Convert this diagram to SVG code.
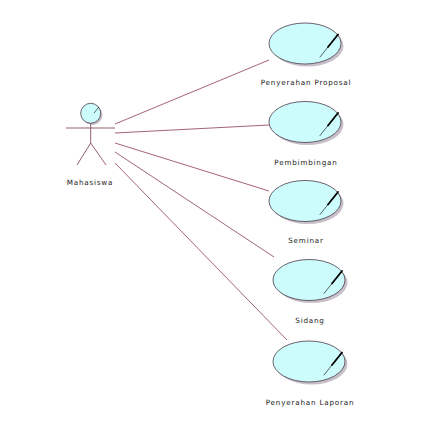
<svg xmlns="http://www.w3.org/2000/svg" width="440" height="436" viewBox="0 0 440 436">
<defs>
<style>
.sh{fill:#c8c0c8;stroke:none}
.uc{fill:#ccfcfc;stroke:#4a3a4a;stroke-width:0.8}
.pen{stroke:#000;fill:none;stroke-linecap:round}
.conn line{stroke:#9a5070;stroke-width:0.9}
.act{stroke:#8a4a60;stroke-width:0.9;fill:none}
.lbl{font-family:"DejaVu Sans",sans-serif;font-size:7.2px;fill:#222;text-anchor:middle;letter-spacing:0.8px}
</style>
<g id="ucshape">
<ellipse class="sh" cx="2.5" cy="2.5" rx="36" ry="20.5"/>
<ellipse class="uc" cx="0" cy="0" rx="36" ry="20.5"/>
<path d="M33,-9 L15,13.5" class="pen" stroke-width="0.6"/>
<path d="M33,-9 L23,3.5" class="pen" stroke-width="1.8"/>
</g>
</defs>
<rect width="440" height="436" fill="#fff"/>
<g class="conn" id="connectors">
<line x1="115" y1="124" x2="269" y2="60"/>
<line x1="115" y1="133" x2="269" y2="125"/>
<line x1="115" y1="143" x2="269" y2="191"/>
<line x1="115" y1="152" x2="274" y2="257"/>
<line x1="115" y1="163" x2="287" y2="340"/>
</g>
<g id="actor">
<circle cx="92.5" cy="115" r="10" fill="#c8c0c8"/>
<circle cx="90.7" cy="113.3" r="10" fill="#ccfcfc" stroke="#4a3a4a" stroke-width="0.8"/>
<path d="M99,107 L94,113" stroke="#000" stroke-width="0.6"/>
<line x1="66" y1="128" x2="115" y2="128" class="act"/>
<line x1="90.7" y1="123.3" x2="90.7" y2="143" class="act"/>
<path d="M77,165 L90.7,143 L106,165" class="act"/>
<text x="90" y="184.5" class="lbl">Mahasiswa</text>
</g>
<g id="uc1"><use href="#ucshape" x="305" y="43.5"/><text x="306" y="85" class="lbl">Penyerahan Proposal</text></g>
<g id="uc2"><use href="#ucshape" x="305" y="122"/><text x="306" y="164.5" class="lbl">Pembimbingan</text></g>
<g id="uc3"><use href="#ucshape" x="305" y="201"/><text x="306" y="243" class="lbl">Seminar</text></g>
<g id="uc4"><use href="#ucshape" x="309" y="280"/><text x="310" y="322.5" class="lbl">Sidang</text></g>
<g id="uc5"><use href="#ucshape" x="309" y="361.5"/><text x="310" y="405" class="lbl">Penyerahan Laporan</text></g>
</svg>
